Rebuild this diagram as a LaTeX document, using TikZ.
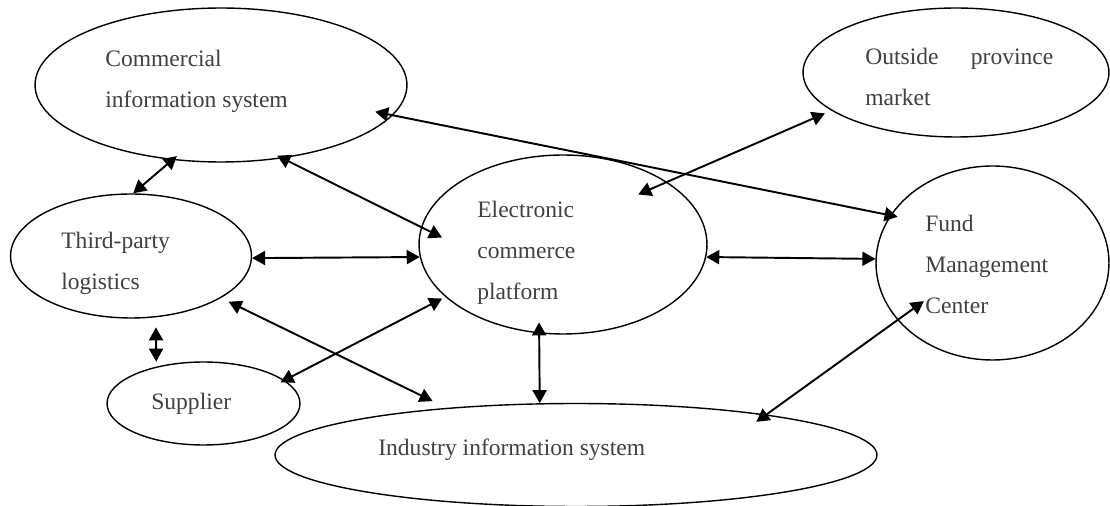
\documentclass[tikz,border=0pt]{standalone}
\usepackage{fontspec}
\setmainfont{Liberation Serif}
\usetikzlibrary{arrows.meta,shapes}
\tikzstyle{oval}=[ellipse,draw,line width=0.8pt,inner sep=0pt]
\tikzstyle{words}=[anchor=base west,align=left,inner sep=0pt,text=black!75,font=\fontsize{13.4}{23.5}\selectfont]
\tikzstyle{link}=[draw,line width=1.1pt,<->,>={Triangle[length=7.4pt,width=8pt]}]

\begin{document}
\begin{tikzpicture}[x=0.02cm,y=-0.02cm]
  \useasboundingbox (0,0) rectangle (1110,506);

  % the ovals
  \node[oval, minimum width=7.44cm, minimum height=3.08cm] (comm) at (221,85) {};
  \node[oval, minimum width=6.12cm, minimum height=2.58cm] (out) at (956,72.5) {};
  \node[oval, minimum width=4.82cm, minimum height=2.48cm] (tp) at (131,256) {};
  \node[oval, minimum width=5.76cm, minimum height=3.58cm] (elec) at (563,244.5) {};
  \node[oval, minimum width=4.66cm, minimum height=3.88cm] (fund) at (992.5,263) {};
  \node[oval, minimum width=3.86cm, minimum height=1.66cm] (sup) at (203.5,403.5) {};
  \node[oval, minimum width=12.04cm, minimum height=2.06cm] (ind) at (576,455) {};

  % their texts (base = last line)
  \node[words] (commtxt) at (105,108) {Commercial\\information system};
  \node[words] (outtxt) at (865,106) {\makebox[3.76cm][s]{Outside province}\\market};
  \node[words] (tptxt) at (61,290) {Third-party\\logistics};
  \node[words] (electxt) at (477,300) {Electronic\\commerce\\platform};
  \node[words] (fundtxt) at (925,314) {Fund\\Management\\Center};
  \node[words] (suptxt) at (151,410) {Supplier};
  \node[words] (indtxt) at (378,456) {Industry information system};

  % two-way links
  \foreach \source/\dest/\sa/\sb in {comm.237/tp.88/-0.12cm/0cm, comm.310/elec.173/-0.12cm/-0.47cm,
      comm.350/fund.155/-0.36cm/-0.15cm, tp.359/elec.185/0cm/0cm, tp.292/sup.142/0.2cm/0.1cm,
      tp.335/ind.160/0.17cm/0.31cm, sup.16/elec.204/-0.09cm/0.07cm, elec.31/out.197/-0.63cm/0.14cm,
      elec.355/fund.178/0cm/0cm, elec.255/ind.125/-0.22cm/0cm, ind.12/fund.211/-0.25cm/-0.65cm}
    \draw[link, shorten <=\sa, shorten >=\sb] (\source) -- (\dest);
\end{tikzpicture}
\end{document}
